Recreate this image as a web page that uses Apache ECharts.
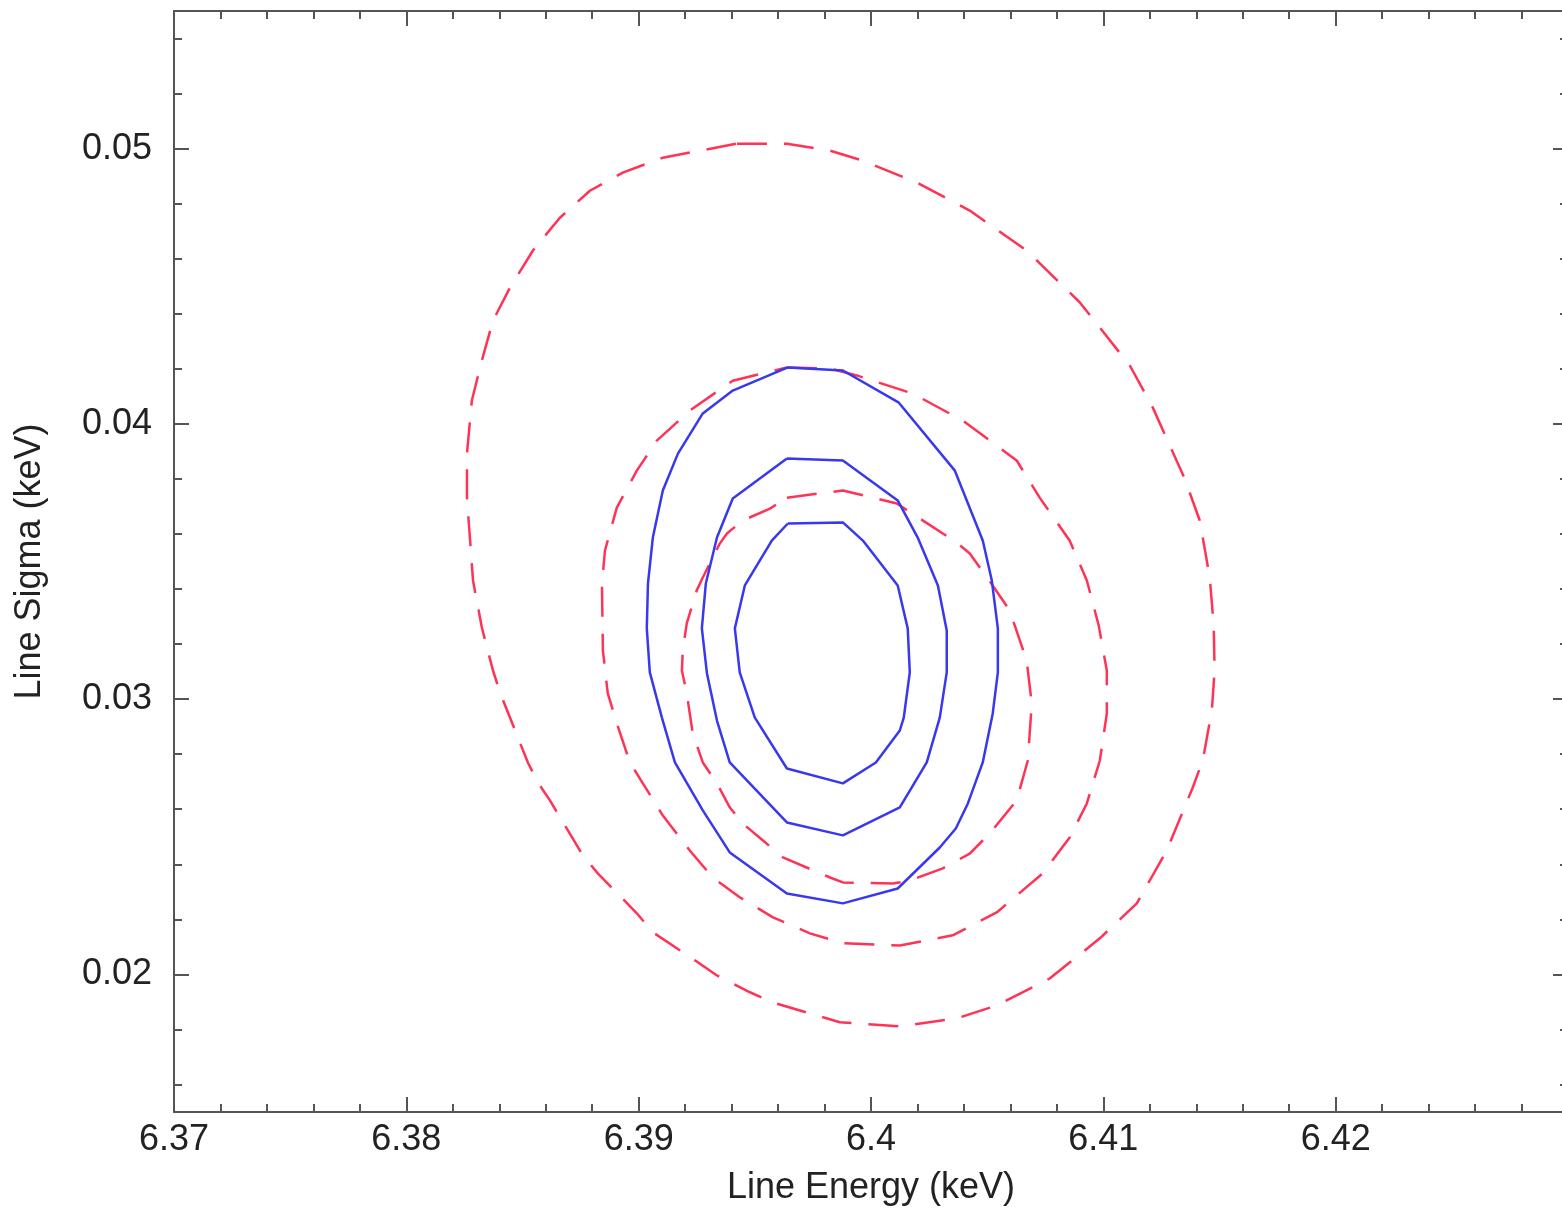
<!DOCTYPE html>
<html><head><meta charset="utf-8">
<script src="https://cdn.jsdelivr.net/npm/echarts@6/dist/echarts.min.js"></script>
<style>html,body{margin:0;padding:0;background:#fff}#c{width:1562px;height:1211px}</style>
</head><body><div id="c"></div>
<script>
const xName = 'Line Energy (keV)';
const yName = 'Line Sigma (keV)';
const xRange = [6.37, 6.43];
const yRange = [0.015, 0.055];

// blue solid contours (outer, middle, inner)
const blueOuter = [[6.39642,0.04205],[6.39879,0.04194],[6.40120,0.04077],[6.40361,0.03830],[6.40481,0.03576],[6.40520,0.03431],[6.40546,0.03257],[6.40546,0.03097],[6.40524,0.02948],[6.40481,0.02770],[6.40417,0.02621],[6.40365,0.02530],[6.40296,0.02461],[6.40115,0.02312],[6.39879,0.02258],[6.39638,0.02294],[6.39392,0.02443],[6.39276,0.02596],[6.39156,0.02770],[6.39100,0.02933],[6.39048,0.03097],[6.39035,0.03257],[6.39040,0.03420],[6.39061,0.03587],[6.39104,0.03758],[6.39169,0.03892],[6.39276,0.04038],[6.39405,0.04121],[6.39642,0.04205]];
const blueMiddle = [[6.39638,0.03874],[6.39879,0.03867],[6.40115,0.03722],[6.40201,0.03587],[6.40288,0.03413],[6.40326,0.03249],[6.40326,0.03097],[6.40296,0.02933],[6.40240,0.02770],[6.40124,0.02607],[6.39879,0.02505],[6.39638,0.02552],[6.39392,0.02770],[6.39337,0.02922],[6.39294,0.03093],[6.39272,0.03257],[6.39289,0.03420],[6.39337,0.03587],[6.39405,0.03729],[6.39638,0.03874]];
const blueInner = [[6.39642,0.03638],[6.39879,0.03642],[6.39965,0.03576],[6.40115,0.03413],[6.40158,0.03257],[6.40167,0.03097],[6.40141,0.02933],[6.40124,0.02886],[6.40021,0.02770],[6.39879,0.02694],[6.39638,0.02748],[6.39500,0.02933],[6.39435,0.03097],[6.39414,0.03257],[6.39457,0.03413],[6.39573,0.03576],[6.39642,0.03638]];

// red dashed contours (outer, middle, inner)
const redOuter = [[6.39423,0.05018],[6.39638,0.05018],[6.39823,0.04993],[6.39965,0.04956],[6.40197,0.04877],[6.40425,0.04775],[6.40670,0.04630],[6.40899,0.04441],[6.41114,0.04212],[6.41213,0.04059],[6.41350,0.03801],[6.41415,0.03649],[6.41458,0.03442],[6.41475,0.03268],[6.41479,0.03104],[6.41467,0.02959],[6.41428,0.02777],[6.41385,0.02679],[6.41273,0.02450],[6.41144,0.02258],[6.40985,0.02131],[6.40769,0.01985],[6.40541,0.01887],[6.40369,0.01840],[6.40124,0.01811],[6.39866,0.01826],[6.39737,0.01858],[6.39578,0.01898],[6.39479,0.01935],[6.39337,0.01996],[6.39242,0.02051],[6.39061,0.02153],[6.38992,0.02222],[6.38824,0.02367],[6.38760,0.02432],[6.38618,0.02632],[6.38566,0.02697],[6.38523,0.02770],[6.38446,0.02933],[6.38403,0.03024],[6.38373,0.03104],[6.38325,0.03260],[6.38287,0.03431],[6.38261,0.03732],[6.38261,0.03892],[6.38282,0.04085],[6.38325,0.04230],[6.38373,0.04375],[6.38446,0.04495],[6.38545,0.04630],[6.38661,0.04749],[6.38790,0.04847],[6.38932,0.04913],[6.39104,0.04967],[6.39423,0.05018]];
const redMiddle = [[6.39638,0.04205],[6.39823,0.04201],[6.39939,0.04176],[6.40180,0.04110],[6.40395,0.04012],[6.40627,0.03867],[6.40726,0.03732],[6.40855,0.03576],[6.40929,0.03431],[6.40980,0.03268],[6.41015,0.03104],[6.41015,0.02948],[6.40985,0.02777],[6.40929,0.02621],[6.40855,0.02497],[6.40739,0.02367],[6.40541,0.02225],[6.40352,0.02142],[6.40124,0.02105],[6.39879,0.02113],[6.39737,0.02149],[6.39578,0.02207],[6.39435,0.02280],[6.39319,0.02352],[6.39220,0.02450],[6.39104,0.02577],[6.39018,0.02694],[6.38962,0.02770],[6.38906,0.02912],[6.38867,0.03021],[6.38846,0.03177],[6.38842,0.03420],[6.38855,0.03540],[6.38906,0.03696],[6.38992,0.03830],[6.39078,0.03939],[6.39220,0.04048],[6.39405,0.04157],[6.39638,0.04205]];
const redInner = [[6.39638,0.03732],[6.39879,0.03758],[6.40111,0.03711],[6.40210,0.03656],[6.40369,0.03569],[6.40425,0.03529],[6.40503,0.03438],[6.40597,0.03322],[6.40670,0.03140],[6.40692,0.02984],[6.40675,0.02777],[6.40627,0.02632],[6.40511,0.02512],[6.40425,0.02439],[6.40309,0.02385],[6.40167,0.02341],[6.40094,0.02330],[6.39879,0.02334],[6.39823,0.02352],[6.39621,0.02425],[6.39534,0.02487],[6.39448,0.02548],[6.39392,0.02607],[6.39337,0.02694],[6.39276,0.02770],[6.39233,0.02875],[6.39207,0.03021],[6.39186,0.03104],[6.39190,0.03177],[6.39207,0.03275],[6.39250,0.03395],[6.39276,0.03442],[6.39349,0.03565],[6.39380,0.03602],[6.39448,0.03649],[6.39565,0.03692],[6.39638,0.03732]];

const BLUE = '#3838ee';
const RED = '#ff3355';
const AX = '#555555';
const FONT = 'Liberation Sans';

function lineSeries(data, color, dashed) {
  return {
    type: 'line', data: data, showSymbol: false, symbol: 'none', smooth: false,
    xAxisIndex: 0, yAxisIndex: 0, silent: true, animation: false,
    lineStyle: { color: color, width: 2.5, type: dashed ? [30, 17] : 'solid' }
  };
}

const tickCommon = {
  axisLine: { show: true, onZero: false, lineStyle: { color: AX, width: 2 } },
  axisTick: { show: true, inside: true, length: 15, lineStyle: { color: AX, width: 2 } },
  minorTick: { show: true, splitNumber: 5, length: 8, lineStyle: { color: AX, width: 2 } },
  splitLine: { show: false }, minorSplitLine: { show: false }
};

const chart = echarts.init(document.getElementById('c'), null, { renderer: 'canvas' });
chart.setOption({
  backgroundColor: '#ffffff',
  animation: false,
  grid: { left: 174, right: -6, top: 11, bottom: 99, containLabel: false, outerBoundsMode: 'none' },
  xAxis: [
    Object.assign({}, tickCommon, {
      type: 'value', position: 'bottom', min: xRange[0], max: xRange[1], interval: 0.01,
      name: xName, nameLocation: 'middle', nameGap: 58,
      nameTextStyle: { fontFamily: FONT, fontSize: 36, color: '#222' },
      axisLabel: { show: true, margin: 10, fontFamily: FONT, fontSize: 36, color: '#222',
        showMaxLabel: false,
        formatter: v => String(+v.toFixed(2)) }
    }),
    Object.assign({}, tickCommon, {
      type: 'value', position: 'top', min: xRange[0], max: xRange[1], interval: 0.01,
      axisLabel: { show: false }
    })
  ],
  yAxis: [
    Object.assign({}, tickCommon, {
      type: 'value', position: 'left', min: yRange[0], max: yRange[1], splitNumber: 4,
      name: yName, nameLocation: 'middle', nameGap: 126,
      nameTextStyle: { fontFamily: FONT, fontSize: 36, color: '#222' },
      axisLabel: { show: true, margin: 22, fontFamily: FONT, fontSize: 36, color: '#222',
        showMinLabel: false, showMaxLabel: false,
        formatter: v => String(+v.toFixed(3)) }
    }),
    Object.assign({}, tickCommon, {
      type: 'value', position: 'right', min: yRange[0], max: yRange[1], splitNumber: 4,
      axisLabel: { show: false }
    })
  ],
  series: [
    lineSeries(redOuter, RED, true),
    lineSeries(redMiddle, RED, true),
    lineSeries(redInner, RED, true),
    lineSeries(blueOuter, BLUE, false),
    lineSeries(blueMiddle, BLUE, false),
    lineSeries(blueInner, BLUE, false)
  ]
});
</script></body></html>
